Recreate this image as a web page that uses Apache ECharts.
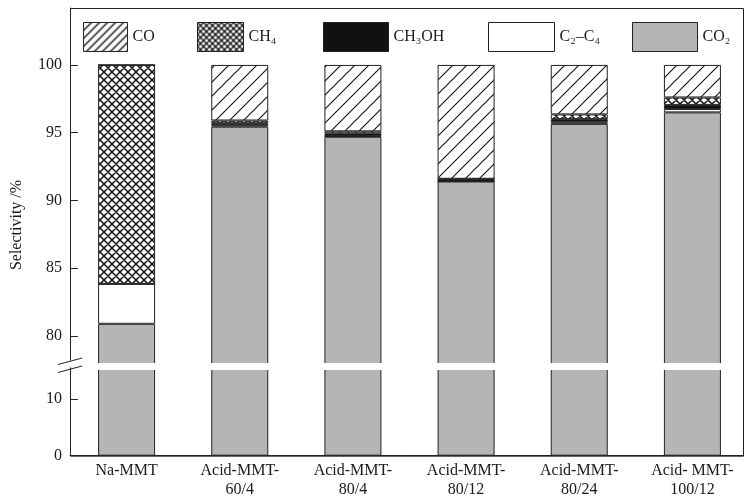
<!DOCTYPE html>
<html>
<head>
<meta charset="utf-8">
<script src="https://cdn.jsdelivr.net/npm/echarts@6/dist/echarts.min.js"></script>
<style>html,body{margin:0;padding:0;background:#fff}#c{width:744px;height:501px}</style>
</head>
<body>
<div id="c"></div>
<script>
// ---- data ----
var categories = ['Na-MMT', 'Acid-MMT-\n60/4', 'Acid-MMT-\n80/4', 'Acid-MMT-\n80/12', 'Acid-MMT-\n80/24', 'Acid- MMT-\n100/12'];
var seriesNames = ['CO', 'CH₄', 'CH₃OH', 'C₂–C₄', 'CO₂'];
var co2   = [80.9, 95.45, 94.7, 91.4, 95.65, 96.5];
var c2c4  = [2.95, 0.1, 0.05, 0, 0.15, 0.25];
var ch3oh = [0, 0.15, 0.2, 0.2, 0.2, 0.3];
var ch4   = [16.15, 0.2, 0.15, 0, 0.35, 0.55];
var co    = [0, 4.1, 4.9, 8.4, 3.65, 2.4];
var upperTicks = [80, 85, 90, 95, 100];
var lowerTicks = [0, 10];

// ---- layout ----
var L = 70, R = 743, PLOTW = 679, TOP = 8, BREAK = 366.5, BOTTOM = 455.7;
var upMin = 77.75, upMax = 104.2, lowMax = 15.73;

function pattern(size, lw, cross) {
  var c = document.createElement('canvas');
  c.width = c.height = size;
  var g = c.getContext('2d');
  g.fillStyle = '#fff'; g.fillRect(0, 0, size, size);
  g.strokeStyle = '#111'; g.lineWidth = lw;
  g.beginPath();
  g.moveTo(-2, size + 2); g.lineTo(size + 2, -2);
  g.moveTo(-2, 2); g.lineTo(2, -2);
  g.moveTo(size - 2, size + 2); g.lineTo(size + 2, size - 2);
  if (cross) {
    g.moveTo(-2, -2); g.lineTo(size + 2, size + 2);
    g.moveTo(size - 2, -2); g.lineTo(size + 2, 2);
    g.moveTo(-2, size - 2); g.lineTo(2, size + 2);
  }
  g.stroke();
  return c;
}
var fills = [
  {image: pattern(14, 1.1, false), repeat: 'repeat'},
  {image: pattern(8, 1.5, true), repeat: 'repeat'},
  '#111',
  '#ffffff',
  '#b5b5b5'
];
var legendFills = [
  {image: pattern(8, 1.4, false), repeat: 'repeat'},
  {image: pattern(6, 1.4, true), repeat: 'repeat'},
  '#111',
  '#ffffff',
  '#b5b5b5'
];
var dataByName = [co, ch4, ch3oh, c2c4, co2];
var stackOrder = [4, 3, 2, 1, 0]; // bottom to top: CO2, C2-C4, CH3OH, CH4, CO

var series = [];
[0, 1].forEach(function (gi) {
  stackOrder.forEach(function (k) {
    series.push({
      name: seriesNames[k],
      type: 'bar',
      xAxisIndex: gi, yAxisIndex: gi,
      stack: 's' + gi,
      barWidth: 57,
      data: dataByName[k],
      itemStyle: {color: fills[k], borderColor: '#222', borderWidth: 1},
      emphasis: {disabled: true},
      animation: false
    });
  });
});

var legendLefts = [78, 192, 318, 483, 627];
var legendWidths = [44, 46, 65, 66, 65];
var legends = seriesNames.map(function (n, i) {
  return {
    left: legendLefts[i], top: 17,
    itemWidth: legendWidths[i], itemHeight: 29,
    selectedMode: false,
    textStyle: {fontFamily: 'Liberation Serif', fontSize: 16, color: '#1a1a1a'},
    data: [{name: n, icon: 'rect', itemStyle: {color: legendFills[i], borderColor: '#222', borderWidth: 1}}]
  };
});

var font = {fontFamily: 'Liberation Serif', fontSize: 16, color: '#1a1a1a'};
var chart = echarts.init(document.getElementById('c'), null, {renderer: 'canvas'});
chart.setOption({
  backgroundColor: '#fff',
  animation: false,
  legend: legends,
  grid: [
    {left: L, width: PLOTW, top: TOP, bottom: 501 - BREAK, containLabel: false, outerBoundsMode: 'none'},
    {left: L, width: PLOTW, top: BREAK, bottom: 501 - BOTTOM, containLabel: false, outerBoundsMode: 'none'}
  ],
  xAxis: [
    {type: 'category', gridIndex: 0, data: categories, show: false},
    {type: 'category', gridIndex: 1, data: categories,
      axisLine: {lineStyle: {color: '#222', width: 1}},
      axisTick: {show: false},
      axisLabel: {fontFamily: 'Liberation Serif', fontSize: 16, color: '#1a1a1a', lineHeight: 19, margin: 6, interval: 0}}
  ],
  yAxis: [
    {type: 'value', gridIndex: 0, min: upMin, max: upMax,
      axisLine: {show: true, lineStyle: {color: '#222', width: 1}},
      axisTick: {show: true, inside: true, length: 8, customValues: upperTicks, lineStyle: {color: '#222'}},
      axisLabel: Object.assign({customValues: upperTicks, margin: 8}, font),
      splitLine: {show: false}},
    {type: 'value', gridIndex: 1, min: 0, max: lowMax,
      axisLine: {show: true, lineStyle: {color: '#222', width: 1}},
      axisTick: {show: true, inside: true, length: 8, customValues: lowerTicks, lineStyle: {color: '#222'}},
      axisLabel: Object.assign({customValues: lowerTicks, margin: 8}, font),
      splitLine: {show: false}}
  ],
  series: series,
  graphic: [
    {type: 'rect', z: 100, silent: true,
      shape: {x: L + 1, y: 363, width: R - L - 2, height: 7},
      style: {fill: '#fff', stroke: null}},
    {type: 'rect', z: 101, silent: true,
      shape: {x: L + 0.5, y: TOP + 0.5, width: R - L, height: BOTTOM - TOP},
      style: {fill: null, stroke: '#222', lineWidth: 1}},
    {type: 'line', z: 102, silent: true,
      shape: {x1: 58, y1: 364.5, x2: 82, y2: 358}, style: {stroke: '#222', lineWidth: 1}},
    {type: 'line', z: 102, silent: true,
      shape: {x1: 58, y1: 372.5, x2: 82, y2: 366}, style: {stroke: '#222', lineWidth: 1}},
    {type: 'rect', z: 101, silent: true,
      shape: {x: 66, y: 360.5, width: 8, height: 7}, style: {fill: '#fff'}},
    {type: 'text', z: 102, silent: true, x: 17, y: 225, rotation: Math.PI / 2,
      style: {text: 'Selectivity /%', fontFamily: 'Liberation Serif', fontSize: 16, fill: '#1a1a1a', align: 'center', verticalAlign: 'middle'}}
  ]
});
</script>
</body>
</html>
